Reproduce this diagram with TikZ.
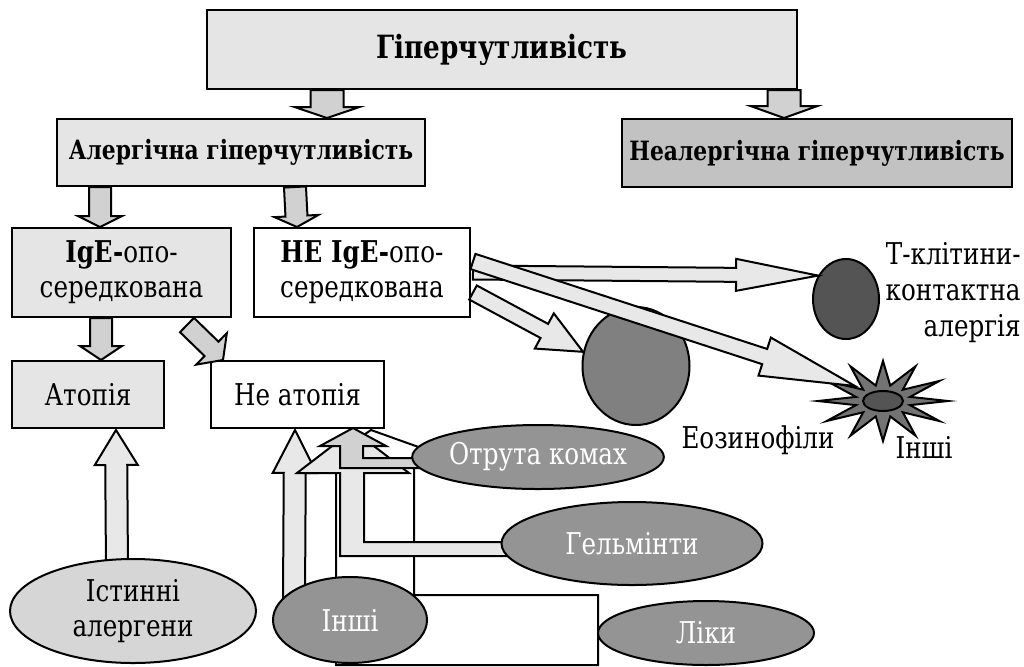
\documentclass[tikz,border=0pt]{standalone}
\usepackage{fontspec}
\setmainfont[FakeStretch=0.82]{DejaVu Serif}
\usetikzlibrary{shapes.geometric, calc, positioning, backgrounds}

\definecolor{boxlight}{gray}{0.90}
\definecolor{boxmid}{gray}{0.76}
\definecolor{arrowmid}{gray}{0.82}
\definecolor{arrowlight}{gray}{0.91}
\definecolor{cellgray}{gray}{0.58}
\definecolor{allergen}{gray}{0.84}
\definecolor{tcellgray}{gray}{0.33}
\definecolor{eosingray}{gray}{0.50}
\definecolor{stargray}{gray}{0.45}

% block arrow: #2 tail, #3 tip, #4 shaft half width, #5 head half width, #6 head length
\newcommand{\blockarrow}[6][arrowmid]{%
  \coordinate (ba-s) at (#2);
  \coordinate (ba-e) at (#3);
  \coordinate (ba-h) at ($(ba-e)!#6!(ba-s)$);
  \draw[blk, fill=#1] ($(ba-s)!#4!-90:(ba-e)$) -- ($(ba-h)!#4!-90:(ba-e)$)
    -- ($(ba-h)!#5!-90:(ba-e)$) -- (ba-e) -- ($(ba-h)!#5!90:(ba-e)$)
    -- ($(ba-h)!#4!90:(ba-e)$) -- ($(ba-s)!#4!90:(ba-e)$) -- cycle;
}

\begin{document}
\begin{tikzpicture}[
    x=0.5pt, y=-0.5pt,
    font=\fontsize{15}{17.5}\selectfont,
    box/.style={
        rectangle,
        draw=black,
        line width=1pt,
        fill=boxlight,
        inner sep=1pt,
        align=center
    },
    cell/.style={
        ellipse,
        draw=black,
        line width=1pt,
        fill=cellgray,
        text=white,
        inner sep=0pt,
        align=center
    },
    blk/.style={draw=black, line width=1pt, line join=miter},
    lbl/.style={inner sep=0pt, align=center},
    boldlbl/.style={font=\fontsize{13.3}{16}\selectfont\bfseries}
]

    \useasboundingbox (0,0) rectangle (1024,666);

    % boxes
    \node (top) [box, minimum width=295pt, minimum height=39.5pt, font=\fontsize{16}{20}\selectfont\bfseries] at (502,49.5) {Гіперчутливість};
    \node (alerg) [box, boldlbl, minimum width=184pt, minimum height=33.5pt] at (241,152.5) {Алергічна гіперчутливість};
    \node (nonalerg) [box, boldlbl, fill=boxmid, minimum width=195pt, minimum height=34pt] at (817,153) {Неалергічна гіперчутливість};

    \node (ige) [box, minimum width=109.5pt, minimum height=44.5pt] at (121.5,272.5) {\textbf{IgE-}опо-\\середкована};
    \node (heige) [box, fill=white, minimum width=108pt, minimum height=44.5pt, right=10.5pt of ige] {\textbf{НЕ IgE-}опо-\\середкована};

    \node (atopy) [box, minimum width=76pt, minimum height=33.5pt, below=21pt of ige.south west, anchor=north west] {Атопія};
    \node (neatopy) [box, fill=white, minimum width=86.5pt, minimum height=33.5pt, right=22.5pt of atopy] {Не атопія};

    % cells
    \node (tcell) [cell, fill=tcellgray, minimum width=33pt, minimum height=40pt] at (846,299) {};
    \node (tcelltxt) [lbl, align=right, anchor=east, font=\fontsize{15}{18}\selectfont] at (1021,293) {Т-клітини-\\контактна\\алергія};
    \node (eosin) [cell, fill=eosingray, minimum width=53.5pt, minimum height=59pt] at (636,366) {};
    \node (eosintxt) [lbl] at (758,440) {Еозинофіли};
    \coordinate (starc) at (883,401);
    \draw[blk, fill=stargray, shift={(starc)}] (65,0)
        \foreach \a in {0,30,...,330} { -- ({28*cos(\a+15)},{16*sin(\a+15)}) -- ({65*cos(\a+30)},{40*sin(\a+30)}) } -- cycle;
    \node (othercell) [cell, fill=tcellgray, minimum width=20pt, minimum height=10pt] at (starc) {};
    \node (othertxt) [lbl] at (924,447) {Інші};

    % allergens
    \node (truealg) [cell, fill=allergen, text=black, minimum width=123pt, minimum height=52pt] at (133,611) {Істинні\\алергени};
    \node (venom) [cell, minimum width=101pt, minimum height=32pt] at (538,457) {Отрута комах};
    \node (helminth) [cell, minimum width=130.5pt, minimum height=41.5pt] at (632,543.5) {Гельмінти};
    \node (other) [cell, minimum width=77pt, minimum height=43pt] at (350,620) {Інші};
    \node (drugs) [cell, minimum width=108pt, minimum height=32pt] at (706,633) {Ліки};

    % arrows between boxes
    \blockarrow{$(top.south)+(-175,0)$}{$(alerg.north)+(86,0)$}{8.25pt}{16.25pt}{5.5pt}
    \blockarrow{$(top.south)+(282,0)$}{$(nonalerg.north)+(-33,0)$}{8.25pt}{16.75pt}{6pt}
    \blockarrow{$(alerg.south)+(-141,0)$}{$(ige.north)+(-21.5,0)$}{5.5pt}{11pt}{5.5pt}
    \blockarrow{$(alerg.south)+(54,0)$}{$(heige.north)+(-65,0)$}{5.5pt}{11pt}{5.5pt}
    \blockarrow{$(ige.south)+(-20.5,0)$}{$(atopy.north)+(13,0)$}{5.5pt}{10.5pt}{7pt}
    \blockarrow{$(ige.south east)+(-45,7)$}{$(neatopy.north west)+(13,0)$}{5pt}{11pt}{8pt}

    \blockarrow[arrowlight]{$(heige.east)+(2,0)$}{tcell.140}{3.5pt}{8pt}{41pt}
    \blockarrow[arrowlight]{$(heige.east)+(2,-11)$}{$(starc)+(-28,-15)$}{4pt}{10pt}{47.5pt}
    \blockarrow[arrowlight]{$(heige.east)+(2,20)$}{eosin.165}{4pt}{10pt}{22pt}

    % arrows into the bottom of the boxes
    \begin{scope}[on background layer]
        \fill[white] (0,0) rectangle (1024,666);
        \blockarrow[arrowlight]{$(truealg.north)+(-16,12)$}{$(atopy.south west)+(105,1)$}{5.5pt}{10.75pt}{17.5pt}
        % drugs
        \draw[blk, fill=white] ($(neatopy.south west)+(161,1)$) -- ++(95,34) -- ++(-52,0) -- ++(0,131)
            -- ++(184,0) -- ++(0,70) -- ++(-262,0) -- ++(0,-201) -- ++(-15,0) -- cycle;
        % others
        \blockarrow[arrowlight]{$(other.north)+(-56,23)$}{$(neatopy.south west)+(85,1)$}{5.5pt}{11pt}{21.5pt}
        % helminths
        \draw[blk, fill=arrowlight] ($(neatopy.south west)+(143,1)$) -- ++(56,43) -- ++(-45,0) -- ++(0,69)
            -- ++(197,0) -- ++(0,14) -- ++(-221,0) -- ++(0,-83) -- ++(-43,0) -- cycle;
        % venom
        \draw[blk, fill=arrowmid] ($(neatopy.south west)+(143,-1)$) -- ++(33,18) -- ++(-23,0) -- ++(0,12)
            -- ++(108,0) -- ++(0,10) -- ++(-131,0) -- ++(0,-22) -- ++(-20,0) -- cycle;
    \end{scope}

\end{tikzpicture}
\end{document}
